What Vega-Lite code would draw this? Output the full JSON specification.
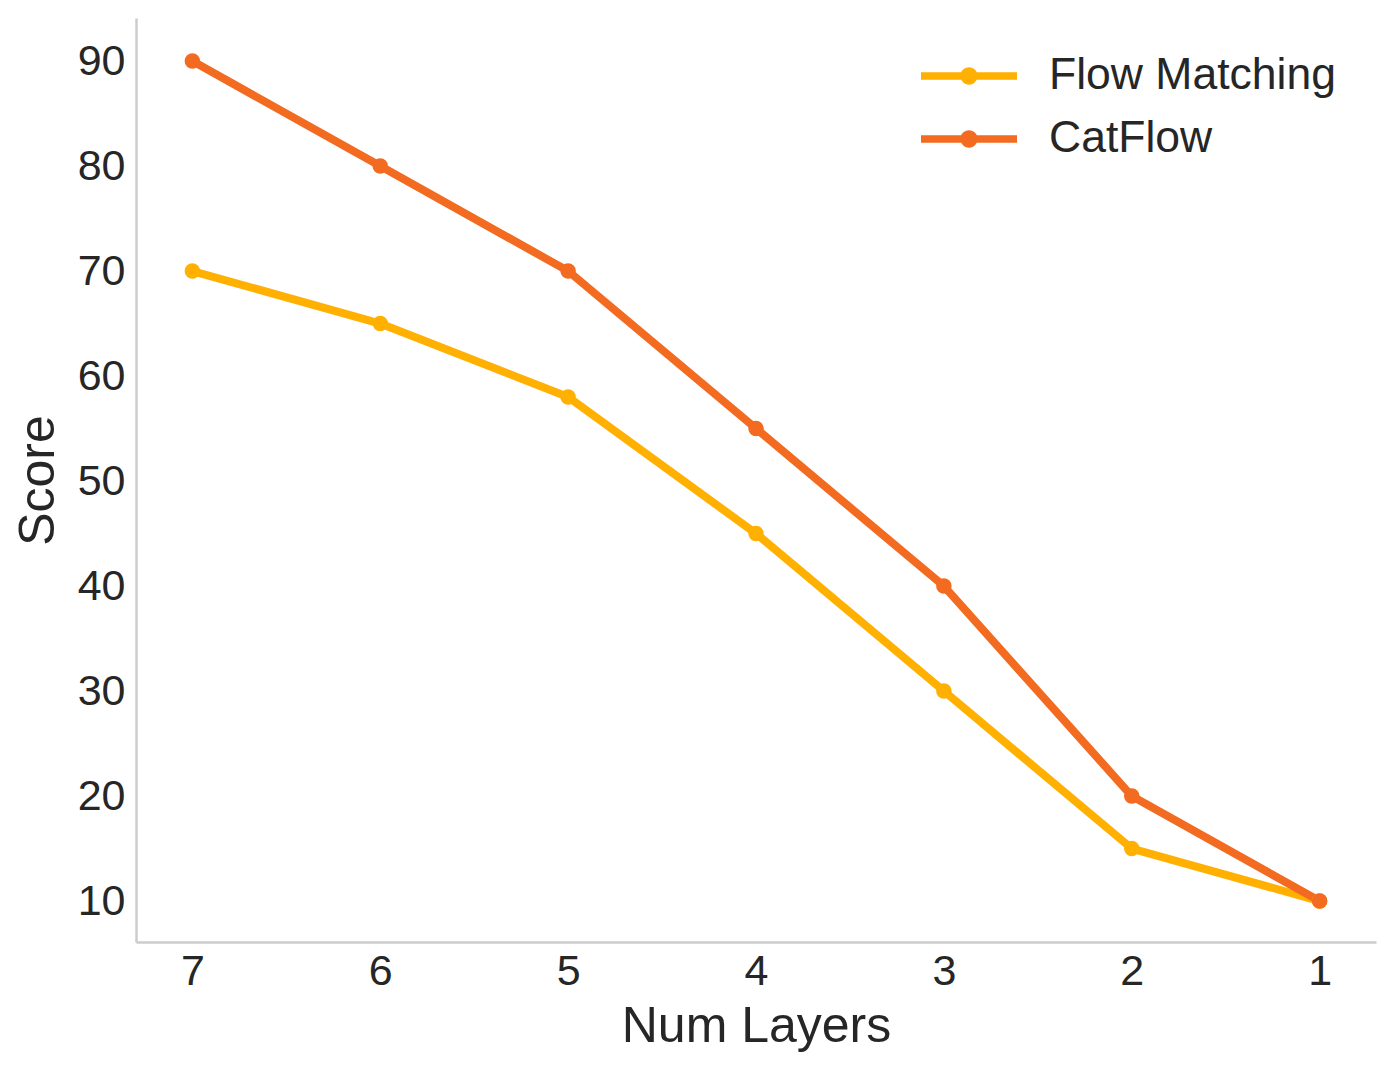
{
  "$schema": "https://vega.github.io/schema/vega-lite/v6.json",
  "width": 1240,
  "height": 924,
  "autosize": "none",
  "padding": {"left": 136, "top": 18, "right": 20, "bottom": 129},
  "background": "white",
  "config": {
    "view": {"stroke": null},
    "font": "Liberation Sans",
    "axis": {"grid": false, "ticks": false, "domainColor": "#cccccc", "domainWidth": 2.5, "labelColor": "#262626", "titleColor": "#262626", "labelFont": "Liberation Sans", "titleFont": "Liberation Sans", "titleFontWeight": "normal", "labelFontSize": 43, "titleFontSize": 50}
  },
  "data": {
    "values": [
      {"layers": 7, "score": 70, "method": "Flow Matching"},
      {"layers": 6, "score": 65, "method": "Flow Matching"},
      {"layers": 5, "score": 58, "method": "Flow Matching"},
      {"layers": 4, "score": 45, "method": "Flow Matching"},
      {"layers": 3, "score": 30, "method": "Flow Matching"},
      {"layers": 2, "score": 15, "method": "Flow Matching"},
      {"layers": 1, "score": 10, "method": "Flow Matching"},
      {"layers": 7, "score": 90, "method": "CatFlow"},
      {"layers": 6, "score": 80, "method": "CatFlow"},
      {"layers": 5, "score": 70, "method": "CatFlow"},
      {"layers": 4, "score": 55, "method": "CatFlow"},
      {"layers": 3, "score": 40, "method": "CatFlow"},
      {"layers": 2, "score": 20, "method": "CatFlow"},
      {"layers": 1, "score": 10, "method": "CatFlow"}
    ]
  },
  "encoding": {
    "x": {"field": "layers", "type": "quantitative", "title": "Num Layers",
      "scale": {"domain": [0.7, 7.3], "reverse": true, "nice": false, "zero": false},
      "axis": {"values": [1, 2, 3, 4, 5, 6, 7], "format": "d", "labelPadding": 8, "titlePadding": 8}},
    "y": {"field": "score", "type": "quantitative", "title": "Score",
      "scale": {"domain": [6.1, 94.1], "nice": false, "zero": false},
      "axis": {"values": [10, 20, 30, 40, 50, 60, 70, 80, 90], "labelPadding": 11, "titlePadding": 14}},
    "color": {"field": "method", "type": "nominal", "title": null,
      "scale": {"domain": ["Flow Matching", "CatFlow"], "range": ["#FFB000", "#F26B21"]},
      "legend": {
        "orient": "none", "legendX": 809, "legendY": 34, "padding": 0,
        "symbolType": "M-2,-0.16H2V0.16H-2Z M0.36,0 A0.36,0.36 0 1,1 -0.36,0 A0.36,0.36 0 1,1 0.36,0 Z",
        "symbolSize": 2304, "symbolStrokeWidth": 0, "symbolOpacity": 1,
        "labelFontSize": 44.5, "labelColor": "#262626", "labelFont": "Liberation Sans", "labelLimit": 500,
        "labelOffset": 56, "rowPadding": 17,
        "encode": {"symbols": {"update": {"fill": {"scale": "color", "field": "value"}, "strokeWidth": {"value": 0}, "opacity": {"value": 1}}}}
      }
    }
  },
  "layer": [
    {"mark": {"type": "line", "strokeWidth": 8, "strokeCap": "round", "strokeJoin": "round"}},
    {"mark": {"type": "point", "filled": true, "size": 240, "opacity": 1}}
  ]
}
